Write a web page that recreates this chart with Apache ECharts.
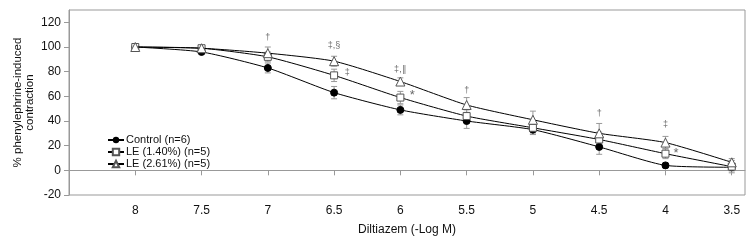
<!DOCTYPE html>
<html>
<head>
<meta charset="utf-8">
<script src="https://cdn.jsdelivr.net/npm/echarts@6/dist/echarts.min.js"></script>
<style>
  html, body { margin: 0; padding: 0; background: #fff; }
  #main { width: 750px; height: 242px; }
</style>
</head>
<body>
<div id="main"></div>
<script>
// dose (-log M)
var doses = [8, 7.5, 7, 6.5, 6, 5.5, 5, 4.5, 4, 3.5];
var yTicks = [-20, 0, 20, 40, 60, 80, 100, 120];

// mean % contraction
var control = [100, 96, 83, 63, 49, 40, 33, 19, 4, 2.5];
var le140 = [100, 99, 92, 77, 59, 44, 34.5, 25, 13.5, 3];
var le261 = [100, 99, 95, 88.5, 72, 53, 41, 30, 22.5, 6.5];

// SEM
var controlErr = [1, 1, 4, 5, 4, 6, 4, 6, 2, 3];
var le140Err = [1, 1, 4, 5, 5, 5, 5, 6, 4, 5];
var le261Err = [1, 1, 5, 4, 3, 6, 7, 8, 5, 3];

// significance marks: [dose, value, text]
var marks = [
    [7, 108, '†'],
    [6.5, 101, '‡,§'],
    [6.4, 79, '‡'],
    [6, 82, '‡,∥'],
    [5.91, 61, '*'],
    [5.5, 65, '†'],
    [4.5, 46, '†'],
    [4, 37.5, '‡'],
    [3.92, 14, '*']
];

var FONT = '"Liberation Sans Narrow", "Liberation Sans", Arial, sans-serif';

function pairs(vals) {
    return doses.map(function (d, i) { return [d, vals[i]]; });
}
function errs(vals, e) {
    return doses.map(function (d, i) { return [d, vals[i] - e[i], vals[i] + e[i]]; });
}

function renderErr(params, api) {
    var x = api.value(0);
    var lo = api.coord([x, api.value(1)]);
    var hi = api.coord([x, api.value(2)]);
    var w = 3;
    var st = { stroke: '#999', lineWidth: 1 };
    return {
        type: 'group',
        children: [
            { type: 'line', shape: { x1: lo[0], y1: lo[1], x2: hi[0], y2: hi[1] }, style: st },
            { type: 'line', shape: { x1: lo[0] - w, y1: lo[1], x2: lo[0] + w, y2: lo[1] }, style: st },
            { type: 'line', shape: { x1: hi[0] - w, y1: hi[1], x2: hi[0] + w, y2: hi[1] }, style: st }
        ]
    };
}

var chart = echarts.init(document.getElementById('main'));

var lineStyle = { color: '#000', width: 1 };

var option = {
    animation: false,
    textStyle: { fontFamily: FONT },
    grid: {
        left: 69, right: 5, top: 10, bottom: 47,
        show: true, borderColor: '#999', borderWidth: 1
    },
    legend: {
        orient: 'vertical',
        left: 102, top: 129,
        itemGap: 0,
        itemWidth: 16, itemHeight: 8,
        textStyle: { fontFamily: FONT, fontSize: 11, color: '#111', padding: [0, 0, 0, -3], lineHeight: 12 },
        data: ['Control (n=6)', 'LE (1.40%) (n=5)', 'LE (2.61%) (n=5)']
    },
    xAxis: {
        type: 'value',
        inverse: true,
        min: 3.4, max: 8.5,
        name: 'Diltiazem (-Log M)',
        nameLocation: 'middle',
        nameGap: 29,
        nameMoveOverlap: false,
        nameTextStyle: { fontFamily: FONT, fontSize: 12, color: '#111' },
        axisLine: { show: true, lineStyle: { color: '#999' } },
        axisTick: { show: true, length: 5, lineStyle: { color: '#999' }, customValues: doses },
        axisLabel: { fontFamily: FONT, fontSize: 12, color: '#111', margin: 10, customValues: doses },
        splitLine: { show: false }
    },
    yAxis: {
        type: 'value',
        min: -20, max: 130,
        name: '% phenylephrine-induced\ncontraction',
        nameLocation: 'middle',
        nameRotate: 90,
        nameGap: 33,
        nameMoveOverlap: false,
        nameTextStyle: { fontFamily: FONT, fontSize: 11.5, color: '#111', lineHeight: 12 },
        axisLine: { show: true, lineStyle: { color: '#999' } },
        axisTick: { show: true, length: 5, lineStyle: { color: '#999' }, customValues: yTicks },
        axisLabel: { fontFamily: FONT, fontSize: 12, color: '#111', margin: 8, customValues: yTicks },
        splitLine: { show: false }
    },
    series: [
        { type: 'custom', renderItem: renderErr, data: errs(control, controlErr), z: 1, silent: true },
        { type: 'custom', renderItem: renderErr, data: errs(le140, le140Err), z: 1, silent: true },
        { type: 'custom', renderItem: renderErr, data: errs(le261, le261Err), z: 1, silent: true },
        {
            name: 'Control (n=6)', type: 'line', data: pairs(control), smooth: 0.2,
            symbol: 'circle', symbolSize: 7,
            itemStyle: { color: '#000', borderColor: '#000' },
            lineStyle: lineStyle, z: 3
        },
        {
            name: 'LE (1.40%) (n=5)', type: 'line', data: pairs(le140), smooth: 0.2,
            symbol: 'rect', symbolSize: 7,
            itemStyle: { color: '#fff', borderColor: '#555', borderWidth: 1 },
            lineStyle: lineStyle, z: 4
        },
        {
            name: 'LE (2.61%) (n=5)', type: 'line', data: pairs(le261), smooth: 0.2,
            symbol: 'triangle', symbolSize: 9,
            itemStyle: { color: '#fff', borderColor: '#555', borderWidth: 1 },
            lineStyle: lineStyle, z: 5
        },
        {
            type: 'scatter', symbol: 'circle', symbolSize: 1, silent: true,
            itemStyle: { color: 'rgba(0,0,0,0)' },
            data: marks.map(function (m) {
                return {
                    value: [m[0], m[1]], name: m[2],
                    label: { fontSize: m[2] === '*' ? 13 : 9 }
                };
            }),
            label: {
                show: true, position: 'inside', formatter: '{b}',
                fontFamily: FONT, fontSize: 9, color: '#444'
            },
            z: 6
        }
    ]
};

chart.setOption(option);
</script>
</body>
</html>
